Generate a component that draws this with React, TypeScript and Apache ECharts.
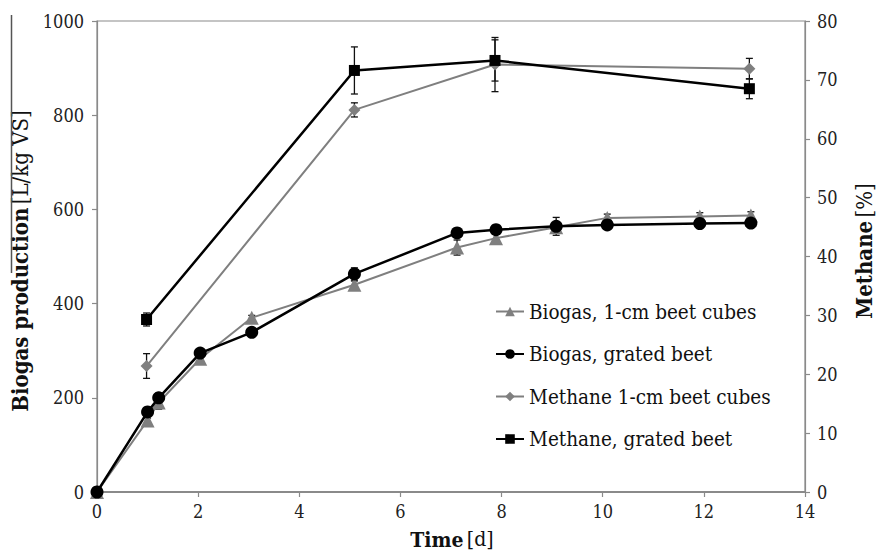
import React, { useEffect, useRef } from "react";
import * as echarts from "echarts";

const biogasTimes = [0, 1.0, 1.22, 2.04, 3.06, 5.09, 7.12, 7.89, 9.08, 10.09, 11.92, 12.93];
const biogasCubes = [0, 152, 190, 283, 370, 440, 519, 539, 562, 582, 585, 587];
const biogasCubesErr = [0, 5, 14, 5, 5, 8, 16, 8, 5, 8, 8, 8];
const biogasGrated = [0, 170, 200, 295, 339, 463, 550, 557, 564, 567, 570, 571];
const biogasGratedErr = [0, 5, 10, 5, 5, 13, 5, 5, 19, 5, 5, 5];

const methaneTimes = [0.98, 5.09, 7.87, 12.9];
const methaneCubes = [21.4, 64.9, 72.6, 71.9];
const methaneCubesErr = [2.1, 1.2, 4.6, 1.75];
const methaneGrated = [29.3, 71.6, 73.3, 68.5];
const methaneGratedErr = [1.1, 4.0, 3.5, 1.7];

const xTicks = { min: 0, max: 14, interval: 2 };
const yLeftTicks = { min: 0, max: 1000, interval: 200 };
const yRightTicks = { min: 0, max: 80, interval: 10 };

const seriesNames = [
  "Biogas, 1-cm beet cubes",
  "Biogas, grated beet",
  "Methane 1-cm beet cubes",
  "Methane, grated beet",
];

const FONT = "DejaVu Serif Condensed, DejaVu Serif";
const GRAY = "#7f7f7f";
const BLACK = "#000000";
const AXIS = "#8a8a8a";

function pairs(xs: number[], ys: number[]) {
  return xs.map((x, i) => [x, ys[i]]);
}
function errData(xs: number[], ys: number[], es: number[]) {
  return xs.map((x, i) => [x, ys[i] - es[i], ys[i] + es[i]]);
}

function errorRender(params: any, api: any) {
  const x = api.value(0);
  const lo = api.coord([x, api.value(1)]);
  const hi = api.coord([x, api.value(2)]);
  const w = 3.5;
  const style = { stroke: "#111", lineWidth: 1.3 };
  return {
    type: "group",
    children: [
      { type: "line", shape: { x1: lo[0], y1: lo[1], x2: hi[0], y2: hi[1] }, style },
      { type: "line", shape: { x1: lo[0] - w, y1: lo[1], x2: lo[0] + w, y2: lo[1] }, style },
      { type: "line", shape: { x1: hi[0] - w, y1: hi[1], x2: hi[0] + w, y2: hi[1] }, style },
    ],
  };
}

export default function App() {
  const ref = useRef<HTMLDivElement>(null);
  useEffect(() => {
    if (!ref.current) return;
    const chart = echarts.init(ref.current, undefined, { renderer: "svg" });
    const axisLabel = {
      color: "#222",
      fontSize: 18,
      fontFamily: FONT,
      formatter: (v: number) => String(v),
    };
    chart.setOption({
      animation: false,
      backgroundColor: "#ffffff",
      textStyle: { fontFamily: FONT },
      grid: {
        left: 97,
        top: 21,
        right: 73,
        bottom: 61,
        show: true,
        borderColor: AXIS,
        borderWidth: 1.2,
        containLabel: false,
      },
      xAxis: {
        type: "value",
        ...xTicks,
        axisLine: { show: true, lineStyle: { color: AXIS, width: 2 } },
        axisTick: { show: true, inside: false, length: 5, lineStyle: { color: AXIS, width: 1.2 } },
        axisLabel: { ...axisLabel, margin: 10 },
        splitLine: { show: false },
      },
      yAxis: [
        {
          type: "value",
          ...yLeftTicks,
          position: "left",
          axisLine: { show: true, lineStyle: { color: AXIS, width: 1.2 } },
          axisTick: { show: true, inside: false, length: 5, lineStyle: { color: AXIS, width: 1.2 } },
          axisLabel: { ...axisLabel, margin: 13 },
          splitLine: { show: false },
        },
        {
          type: "value",
          ...yRightTicks,
          position: "right",
          axisLine: { show: true, lineStyle: { color: AXIS, width: 1.2 } },
          axisTick: { show: true, inside: false, length: 5, lineStyle: { color: AXIS, width: 1.2 } },
          axisLabel: { ...axisLabel, margin: 12 },
          splitLine: { show: false },
        },
      ],
      legend: {
        orient: "vertical",
        left: 495,
        top: 301,
        padding: 0,
        itemGap: 21.5,
        itemWidth: 28,
        itemHeight: 12,
        data: seriesNames,
        textStyle: { color: "#111", fontSize: 20.5, fontFamily: FONT },
      },
      graphic: [
        {
          type: "text",
          x: 20,
          y: 261,
          rotation: Math.PI / 2,
          style: {
            text: "{b|Biogas production} {n|[L/kg VS]}",
            align: "center",
            verticalAlign: "middle",
            fill: "#111",
            rich: {
              b: { fontSize: 22, fontWeight: "bold", fontFamily: FONT, fill: "#111" },
              n: { fontSize: 22, fontFamily: FONT, fill: "#111" },
            },
          },
        },
        {
          type: "text",
          x: 864,
          y: 251,
          rotation: Math.PI / 2,
          style: {
            text: "{b|Methane} {n|[%]}",
            align: "center",
            verticalAlign: "middle",
            fill: "#111",
            rich: {
              b: { fontSize: 22, fontWeight: "bold", fontFamily: FONT, fill: "#111" },
              n: { fontSize: 22, fontFamily: FONT, fill: "#111" },
            },
          },
        },
        {
          type: "text",
          x: 452,
          y: 539,
          style: {
            text: "{b|Time} {n|[d]}",
            align: "center",
            verticalAlign: "middle",
            fill: "#111",
            rich: {
              b: { fontSize: 21, fontWeight: "bold", fontFamily: FONT, fill: "#111" },
              n: { fontSize: 21, fontFamily: FONT, fill: "#111" },
            },
          },
        },
        {
          type: "line",
          shape: { x1: 11.5, y1: 15, x2: 11.5, y2: 273 },
          style: { stroke: "#555", lineWidth: 1.5 },
        },
      ],
      series: [
        {
          type: "custom",
          name: "errBiogasCubes",
          xAxisIndex: 0,
          yAxisIndex: 0,
          z: 1,
          renderItem: errorRender,
          encode: { x: 0, y: [1, 2] },
          data: errData(biogasTimes, biogasCubes, biogasCubesErr),
        },
        {
          type: "custom",
          name: "errBiogasGrated",
          xAxisIndex: 0,
          yAxisIndex: 0,
          z: 1,
          renderItem: errorRender,
          encode: { x: 0, y: [1, 2] },
          data: errData(biogasTimes, biogasGrated, biogasGratedErr),
        },
        {
          type: "custom",
          name: "errMethaneCubes",
          xAxisIndex: 0,
          yAxisIndex: 1,
          z: 1,
          renderItem: errorRender,
          encode: { x: 0, y: [1, 2] },
          data: errData(methaneTimes, methaneCubes, methaneCubesErr),
        },
        {
          type: "custom",
          name: "errMethaneGrated",
          xAxisIndex: 0,
          yAxisIndex: 1,
          z: 1,
          renderItem: errorRender,
          encode: { x: 0, y: [1, 2] },
          data: errData(methaneTimes, methaneGrated, methaneGratedErr),
        },
        {
          type: "line",
          name: seriesNames[0],
          yAxisIndex: 0,
          z: 2,
          data: pairs(biogasTimes, biogasCubes),
          symbol: "triangle",
          symbolSize: 14,
          showAllSymbol: true,
          lineStyle: { color: GRAY, width: 2 },
          itemStyle: { color: GRAY, borderWidth: 0 },
        },
        {
          type: "line",
          name: seriesNames[1],
          yAxisIndex: 0,
          z: 3,
          data: pairs(biogasTimes, biogasGrated),
          symbol: "circle",
          symbolSize: 13,
          showAllSymbol: true,
          lineStyle: { color: BLACK, width: 2.5 },
          itemStyle: { color: BLACK, borderWidth: 0 },
        },
        {
          type: "line",
          name: seriesNames[2],
          yAxisIndex: 1,
          z: 2,
          data: pairs(methaneTimes, methaneCubes),
          symbol: "diamond",
          symbolSize: 12,
          showAllSymbol: true,
          lineStyle: { color: GRAY, width: 2 },
          itemStyle: { color: GRAY, borderWidth: 0 },
        },
        {
          type: "line",
          name: seriesNames[3],
          yAxisIndex: 1,
          z: 3,
          data: pairs(methaneTimes, methaneGrated),
          symbol: "rect",
          symbolSize: 11,
          showAllSymbol: true,
          lineStyle: { color: BLACK, width: 2.5 },
          itemStyle: { color: BLACK, borderWidth: 0 },
        },
      ],
    });
    return () => chart.dispose();
  }, []);
  return (
    <div
      ref={ref}
      style={{ position: "absolute", left: 0, top: 0, width: 878, height: 553, background: "#fff" }}
    />
  );
}
